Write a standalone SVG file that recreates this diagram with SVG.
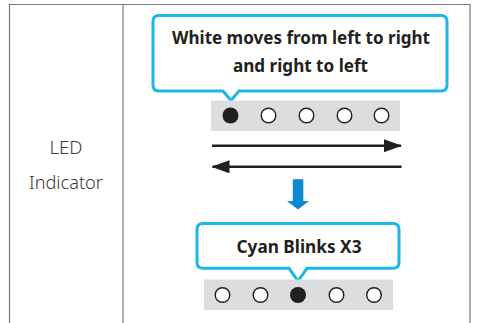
<svg xmlns="http://www.w3.org/2000/svg" width="481" height="323" viewBox="0 0 481 323">
<style>
.grid{fill:none;stroke:#7a7a7a;stroke-width:1.2}
.label{font-family:"Noto Sans","Open Sans",sans-serif;font-weight:300;font-size:18px;fill:#3a3a3a;text-anchor:middle}
.call{fill:#fff;stroke:#1bb7ea;stroke-width:3;stroke-linejoin:miter}
.ctext{font-family:"Noto Sans","Open Sans",sans-serif;font-weight:700;font-size:18px;fill:#231f20;text-anchor:middle}
.bar{fill:#dcdddf}
.off{fill:#fff;stroke:#231f20;stroke-width:1.4}
.on{fill:#231f20}
.line{stroke:#231f20;stroke-width:2.6;fill:none}
</style>
<defs>
<marker id="ah" markerWidth="18" markerHeight="13" refX="17" refY="6.5" orient="auto" markerUnits="userSpaceOnUse">
<path d="M0,0 L18,6.5 L0,13 Z" fill="#231f20"/>
</marker>
</defs>
<g id="table">
<path class="grid" d="M9.5,330 V4.5 H470 V330 M123,4.5 V330"/>
</g>
<g id="label">
<text class="label" x="66" y="154" textLength="33" lengthAdjust="spacingAndGlyphs">LED</text>
<text class="label" x="66" y="188.5" textLength="74" lengthAdjust="spacingAndGlyphs">Indicator</text>
</g>
<g id="callout-top">
<path class="call" d="M159,15.5 H441 Q447,15.5 447,21.5 V85 Q447,91 441,91 H239 L231,100.5 L223,91 H159 Q153,91 153,85 V21.5 Q153,15.5 159,15.5 Z"/>
<text class="ctext" x="301" y="44" textLength="258" lengthAdjust="spacingAndGlyphs">White moves from left to right</text>
<text class="ctext" x="300.5" y="72" textLength="135" lengthAdjust="spacingAndGlyphs">and right to left</text>
</g>
<g id="led-row-1">
<rect class="bar" x="211" y="100.5" width="189" height="30.5"/>
<circle class="on" cx="230.5" cy="115.5" r="8"/>
<circle class="off" cx="268.5" cy="115.5" r="7.3"/>
<circle class="off" cx="306.5" cy="115.5" r="7.3"/>
<circle class="off" cx="344.5" cy="115.5" r="7.3"/>
<circle class="off" cx="381.5" cy="115.5" r="7.3"/>
</g>
<g id="connectors">
<line class="line" x1="212" y1="145.7" x2="401" y2="145.7" marker-end="url(#ah)"/>
<line class="line" x1="401.5" y1="166.8" x2="212.5" y2="166.8" marker-end="url(#ah)"/>
<path d="M292.8,179.3 H303.3 V201 H309 L298,209.5 L287,201 H292.8 Z" fill="#0a88d0"/>
</g>
<g id="callout-bottom">
<path class="call" d="M203,223.5 H393 Q399,223.5 399,229.5 V262.3 Q399,268.3 393,268.3 H307 L298,281 L289,268.3 H203 Q197,268.3 197,262.3 V229.5 Q197,223.5 203,223.5 Z"/>
<text class="ctext" x="299" y="252.5" textLength="125" lengthAdjust="spacingAndGlyphs">Cyan Blinks X3</text>
</g>
<g id="led-row-2">
<rect class="bar" x="204" y="279.5" width="189" height="30.5"/>
<circle class="off" cx="222.5" cy="295" r="7.3"/>
<circle class="off" cx="260.5" cy="295" r="7.3"/>
<circle class="on" cx="298" cy="295" r="8"/>
<circle class="off" cx="336.5" cy="295" r="7.3"/>
<circle class="off" cx="374" cy="295" r="7.3"/>
</g>
</svg>
